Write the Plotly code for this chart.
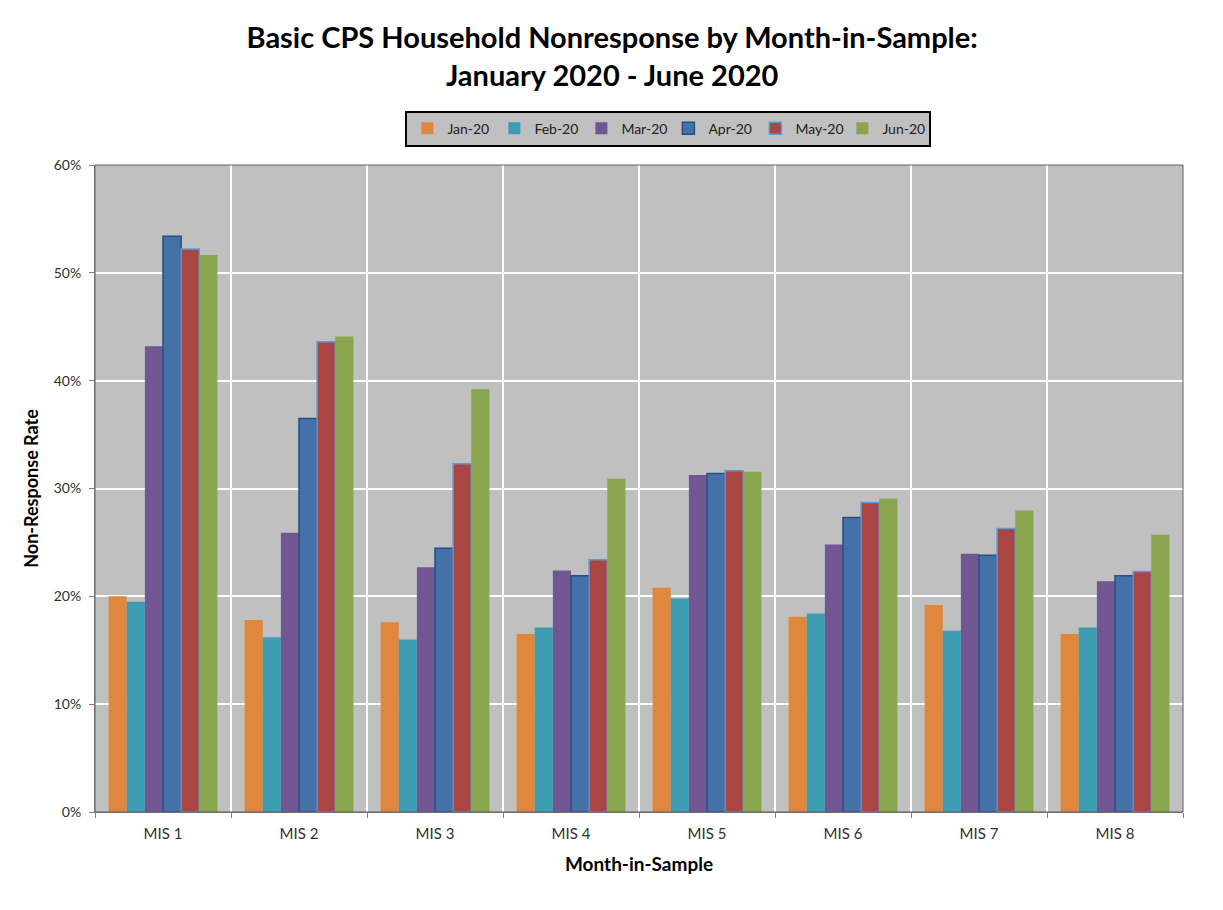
import plotly.graph_objects as go

# Month-in-sample categories
mis_labels = ["MIS 1", "MIS 2", "MIS 3", "MIS 4", "MIS 5", "MIS 6", "MIS 7", "MIS 8"]

# Non-response rate (%) per survey month
jan_20 = [20.0, 17.8, 17.6, 16.5, 20.8, 18.1, 19.2, 16.5]
feb_20 = [19.5, 16.2, 16.0, 17.1, 19.8, 18.4, 16.8, 17.1]
mar_20 = [43.2, 25.9, 22.7, 22.4, 31.25, 24.8, 23.95, 21.4]
apr_20 = [53.4, 36.5, 24.45, 21.9, 31.4, 27.3, 23.8, 21.9]
may_20 = [52.2, 43.6, 32.3, 23.4, 31.65, 28.7, 26.3, 22.3]
jun_20 = [51.65, 44.1, 39.2, 30.9, 31.55, 29.05, 27.95, 25.7]

series = [
    ("Jan-20", jan_20, "#E0873E", None),
    ("Feb-20", feb_20, "#3C9DB3", None),
    ("Mar-20", mar_20, "#715693", None),
    ("Apr-20", apr_20, "#4472A8", "#264F82"),
    ("May-20", may_20, "#A94543", "#5B9BD5"),
    ("Jun-20", jun_20, "#89A54E", None),
]

fig = go.Figure()
for name, vals, color, edge in series:
    fig.add_trace(go.Bar(
        name=name,
        x=mis_labels,
        y=vals,
        marker=dict(
            color=color,
            line=dict(color=edge if edge else color, width=1.5 if edge else 0),
        ),
    ))

font_family = "Lato, 'Open Sans', sans-serif"

fig.update_layout(
    width=1223,
    height=910,
    barmode="group",
    bargap=0.2,
    bargroupgap=0,
    paper_bgcolor="white",
    plot_bgcolor="#C0C0C0",
    margin=dict(l=87, r=48, t=157, b=106),
    font=dict(family=font_family, color="#404040", size=14),
    title=dict(
        text="<b>Basic CPS Household Nonresponse by Month-in-Sample:<br>January 2020 - June 2020</b>",
        x=0.494,
        xanchor="center",
        xref="container",
        y=0.956,
        yanchor="top",
        yref="container",
        font=dict(family=font_family, size=29, color="black"),
    ),
    legend=dict(
        orientation="h",
        x=0.527,
        xanchor="center",
        y=1.056,
        yanchor="middle",
        bgcolor="#C0C0C0",
        bordercolor="black",
        borderwidth=2,
        font=dict(family=font_family, size=14, color="#202020"),
        itemwidth=30,
        entrywidth=42,
        traceorder="normal",
    ),
    xaxis=dict(
        title=dict(text="<b>Month-in-Sample</b>", font=dict(size=19, color="black"), standoff=16),
        tickson="boundaries",
        showgrid=True,
        gridcolor="white",
        gridwidth=2,
        ticks="outside",
        ticklen=5,
        tickcolor="#808080",
        ticklabelstandoff=8,
        showline=True,
        linecolor="#808080",
        linewidth=1,
        tickfont=dict(size=15, color="#303030"),
    ),
    yaxis=dict(
        title=dict(text="<b>Non-Response Rate</b>", font=dict(size=18, color="black"), standoff=10),
        range=[0, 60],
        dtick=10,
        ticksuffix="%",
        showgrid=True,
        gridcolor="white",
        gridwidth=2,
        ticks="outside",
        ticklen=5,
        tickcolor="#808080",
        ticklabelstandoff=5,
        showline=True,
        linecolor="#808080",
        linewidth=1,
        zeroline=False,
        tickfont=dict(size=14, color="#303030"),
    ),
)

# thin dark frame round the plot area, like the Excel plot border
fig.add_shape(type="rect", xref="paper", yref="paper", x0=0, y0=0, x1=1, y1=1,
              line=dict(color="#606060", width=1), layer="above")

fig.write_html("out.html")
